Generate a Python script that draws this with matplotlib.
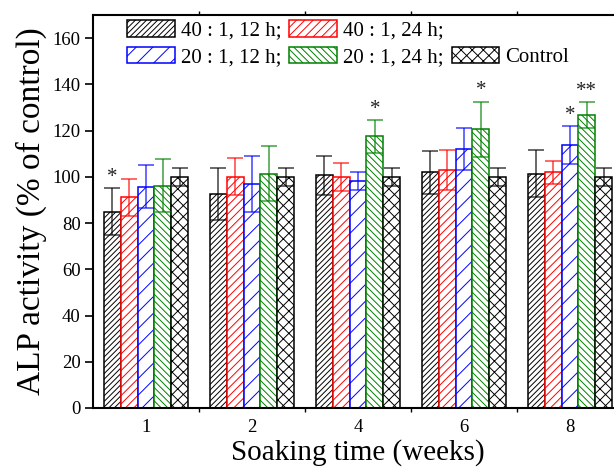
from matplotlib import pyplot as plt
from matplotlib.patches import Rectangle
import numpy as np

plt.rcParams['font.family'] = ['Liberation Serif', 'DejaVu Serif']
plt.rcParams['hatch.linewidth'] = 0.7

# data (% of control)
weeks = ['1', '2', '4', '6', '8']
labels = ['40 : 1, 12 h;', '40 : 1, 24 h;', '20 : 1, 12 h;', '20 : 1, 24 h;', 'Control']

alp_40_12 = [85.0, 92.5, 100.7, 101.9, 101.4]
err_40_12 = [10.0, 11.3, 8.5, 9.4, 10.0]
alp_40_24 = [91.2, 100.1, 100.0, 103.0, 102.0]
err_40_24 = [8.0, 8.0, 6.0, 8.8, 5.0]
alp_20_12 = [95.8, 96.8, 98.3, 112.1, 113.6]
err_20_12 = [9.5, 12.0, 4.0, 9.2, 8.2]
alp_20_24 = [96.2, 101.4, 117.5, 120.5, 126.7]
err_20_24 = [11.5, 12.0, 7.0, 12.0, 5.5]
alp_ctrl = [100.0, 100.0, 100.0, 100.0, 100.0]
err_ctrl = [4.0, 4.0, 4.0, 4.0, 4.0]

# significance marks: (series index, week index, text)
stars = [(0, 0, '*'), (3, 2, '*'), (3, 3, '*'), (2, 4, '*'), (3, 4, '**')]

means = [alp_40_12, alp_40_24, alp_20_12, alp_20_24, alp_ctrl]
errs = [err_40_12, err_40_24, err_20_12, err_20_24, err_ctrl]
colors = ['black', '#FF0000', '#0000FF', '#008000', 'black']
hatches = ['//////', '////', '//', '\\' * 5, 'xxx']

fig = plt.figure(figsize=(6.14, 4.70), dpi=100)
ax = fig.add_axes([93 / 614, 62 / 470, 530 / 614, 393 / 470])

x = np.arange(len(weeks))
w = 0.16
bars = []
for i in range(5):
    pos = x + (i - 2) * w
    b = ax.bar(pos, means[i], w, color='white', edgecolor=colors[i],
               hatch=hatches[i], linewidth=1.1, label=labels[i], zorder=2)
    ax.errorbar(pos, means[i], yerr=errs[i], fmt='none', ecolor=colors[i],
                elinewidth=1.1, capsize=6, capthick=1.1, alpha=0.75, zorder=3)
    bars.append(b)

for i, g, txt in stars:
    ax.text(x[g] + (i - 2) * w, means[i][g] + errs[i][g] + 2.8, txt,
            ha='center', va='baseline', fontsize=15, color='#222222')

ax.set_xlim(-0.5, 4.5)
ax.set_ylim(0, 170)
ax.set_xticks(x)
ax.set_xticklabels(weeks)
ax.set_xticks(x[:-1] + 0.5, minor=True)
ax.set_yticks(np.arange(0, 161, 20))
ax.tick_params(axis='x', which='major', length=0, pad=8, labelsize=13.5)
ax.tick_params(axis='x', which='minor', length=3, width=1.0, top=True, direction='out')
ax.tick_params(axis='y', which='major', length=6, width=1.2, pad=3, labelsize=13.5)
for s in ax.spines.values():
    s.set_linewidth(1.5)

ax.set_xlabel('Soaking time (weeks)', fontsize=21, labelpad=2)
ax.set_ylabel('ALP activity (% of control)', fontsize=24, labelpad=4)

blank = Rectangle((0, 0), 1, 1, fill=False, edgecolor='none', visible=False)
handles = [bars[0], bars[2], bars[1], bars[3], blank, bars[4]]
names = [labels[0], labels[2], labels[1], labels[3], '', labels[4]]
ax.legend(handles, names, ncol=3, loc='upper left', bbox_to_anchor=(0.0647, 0.987),
          frameon=False, fontsize=15, borderpad=0, borderaxespad=0,
          handlelength=2.3, handleheight=0.85, handletextpad=0.27,
          columnspacing=0.38, labelspacing=0.3)

fig.savefig('out.png', dpi=100)
